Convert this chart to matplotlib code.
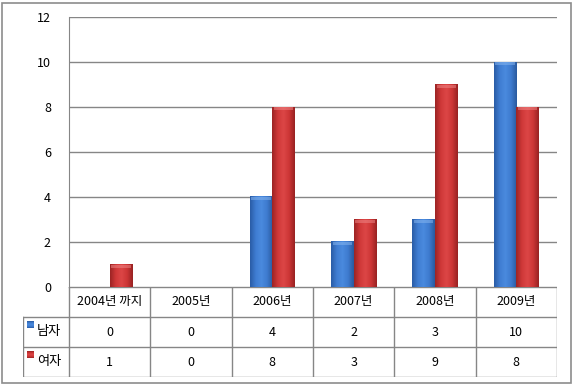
import numpy as np
import matplotlib.pyplot as plt
from matplotlib.colors import LinearSegmentedColormap
from matplotlib.patches import Rectangle

plt.rcParams['font.family'] = ['Noto Sans CJK KR', 'DejaVu Sans']

# ---- data ----
categories = ["2004년 까지", "2005년", "2006년", "2007년", "2008년", "2009년"]
series_names = ["남자", "여자"]
male = [0, 0, 4, 2, 3, 10]
female = [1, 0, 8, 3, 9, 8]
y_ticks = [0, 2, 4, 6, 8, 10, 12]

# gradient profiles (edge -> highlight -> edge)
blue_stops = ["#2a5ca6", "#3f7dd2", "#4a8ade", "#3e7bcf", "#2a5a9e"]
red_stops = ["#9c2424", "#cf3838", "#dc4646", "#cd3636", "#982222"]
blue_cmap = LinearSegmentedColormap.from_list("b", blue_stops)
red_cmap = LinearSegmentedColormap.from_list("r", red_stops)

W, H = 573, 385
fig = plt.figure(figsize=(W / 100, H / 100), dpi=100)

def px_box(x0, y0, x1, y1):
    # pixel box (top-left origin) -> figure fraction rect
    return [x0 / W, 1 - y1 / H, (x1 - x0) / W, (y1 - y0) / H]

# outer frame
fig.patches.append(Rectangle((1.5 / W, 2 / H), (W - 4) / W, (H - 5) / H,
                             transform=fig.transFigure, fill=False,
                             edgecolor="#8c8c8c", linewidth=1.2))

ax = fig.add_axes(px_box(69, 17, 557, 287))
n = len(categories)
x = np.arange(n)
bw = 0.28

grad = np.linspace(0, 1, 64).reshape(1, -1)

def draw_bar(x0, v, cmap, top_col):
    if v <= 0:
        return
    ax.imshow(grad, cmap=cmap, extent=[x0, x0 + bw, 0, v], aspect="auto",
              zorder=3, interpolation="bilinear")
    # top bevel highlight
    ax.add_patch(Rectangle((x0 + 0.02, v - 0.14), bw - 0.04, 0.14,
                           facecolor=top_col, edgecolor="none", alpha=0.5,
                           zorder=4))

for i in range(n):
    draw_bar(x[i] - bw, male[i], blue_cmap, "#8ab8f0")
    draw_bar(x[i], female[i], red_cmap, "#f08a8a")

ax.set_xlim(-0.5, n - 0.5)
ax.set_ylim(0, 12)
ax.set_yticks(y_ticks)
ax.set_yticklabels([str(t) for t in y_ticks], fontsize=9)
ax.tick_params(axis="y", length=0, pad=13)
ax.set_xticks([])
ax.grid(axis="y", color="#868686", linewidth=1.0, zorder=0)
ax.set_axisbelow(True)
for s in ["top", "right", "bottom"]:
    ax.spines[s].set_visible(False)
ax.spines["left"].set_color("#868686")

# ---- data table ----
tax = fig.add_axes(px_box(23, 287, 557, 377))
leg_w = (69 - 23) / ((557 - 69) / n)
left = -0.5 - leg_w
lc = "#868686"
# horizontal lines
tax.plot([-0.5, n - 0.5], [0, 0], color=lc, lw=1.0)
for yy in [1, 2, 3]:
    tax.plot([left, n - 0.5], [yy, yy], color=lc, lw=1.0)
# vertical lines
tax.plot([left, left], [1, 3], color=lc, lw=1.0)
for k in range(n + 1):
    tax.plot([k - 0.5, k - 0.5], [0, 3], color=lc, lw=1.0)

fs = 9
for i, c in enumerate(categories):
    tax.text(x[i], 0.5, c, ha="center", va="center", fontsize=fs)
    tax.text(x[i], 1.5, str(male[i]), ha="center", va="center", fontsize=fs)
    tax.text(x[i], 2.5, str(female[i]), ha="center", va="center", fontsize=fs)

# legend keys
for row, (name, cmap) in enumerate(zip(series_names, [blue_cmap, red_cmap])):
    ky = 1 + row + 0.15
    tax.imshow(grad.T[::-1], cmap=cmap, extent=[left + 0.05, left + 0.13, ky + 0.22, ky],
               aspect="auto", zorder=3)
    tax.text(left + 0.17, 1 + row + 0.5, name, ha="left", va="center", fontsize=9.5)
tax.set_xlim(left, n - 0.5)
tax.set_ylim(3, 0)
tax.axis("off")

fig.savefig("out.png", dpi=100)
